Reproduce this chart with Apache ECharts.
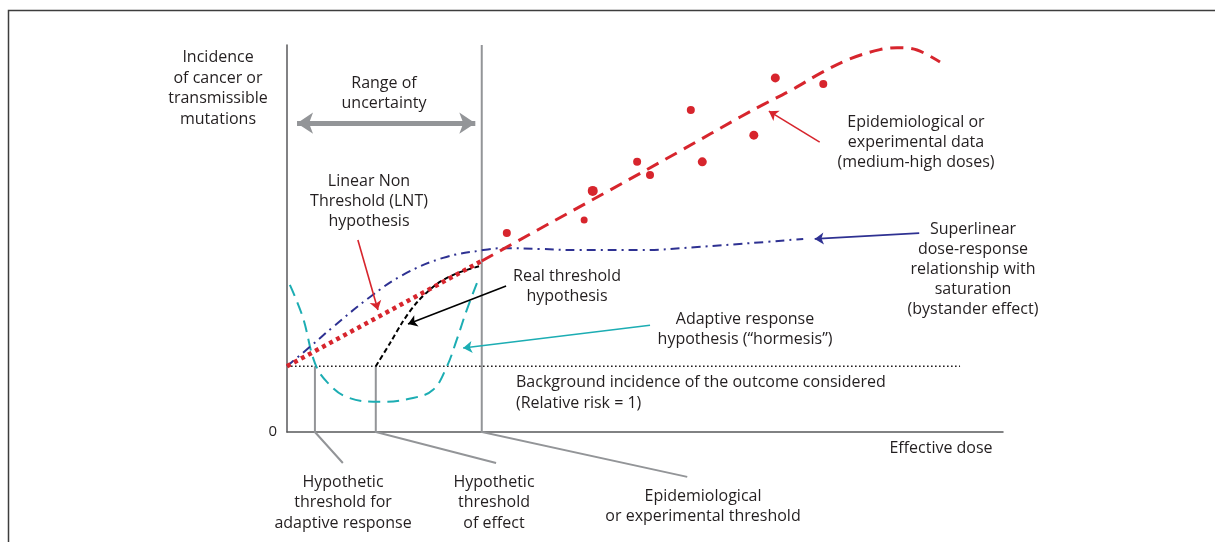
<!DOCTYPE html>
<html>
<head>
<meta charset="utf-8">
<script src="https://cdn.jsdelivr.net/npm/echarts@6/dist/echarts.min.js"></script>
<style>
html,body{margin:0;padding:0;background:#fff;}
#chart{width:1215px;height:542px;}
</style>
</head>
<body>
<div id="chart"></div>
<script>
// ---- Data (dose units 0-100, incidence units 0-100) ----
var background = [[0, 17], [94, 17]];
var lntLine = [[0, 17], [27.2, 44.2]];
var epiCurve = [[27.2, 44.2], [35, 52.2], [45, 62.4], [55, 72.7], [63.3, 81.4], [66.5, 84.6], [70.7, 88.6], [74.4, 92.6], [78.6, 96.4], [82.8, 98.8], [85.2, 99.3], [88, 98.7], [91.2, 95.6]];
var superlinear = [[0, 17], [3.2, 22.0], [6.4, 27.1], [11.6, 34.9], [16.2, 40.6], [21.8, 45.0], [27.4, 47.0], [30.2, 47.5], [35.3, 47.3], [40.9, 47.0], [49.3, 47.0], [57.3, 47.8], [64.7, 48.8], [72.1, 49.9]];
var realThreshold = [[12.4, 17], [14.4, 23.0], [16.2, 28.6], [18.2, 33.6], [20.9, 38.2], [23.7, 41.0], [27.0, 42.9]];
var hormesis = [[0.4, 38.0], [2.2, 29.7], [3.9, 17.8], [5.6, 12.9], [8.4, 9.0], [13.0, 7.8], [17.6, 8.8], [20.4, 10.9], [22.3, 16.8], [23.7, 23.8], [25.1, 31.5], [26.7, 39.3]];
var epiPoints = [[30.7, 51.4], [41.5, 54.8], [42.7, 62.3], [48.9, 69.8], [50.7, 66.4], [56.4, 83.2], [58.0, 69.8], [65.2, 76.7], [68.2, 91.5], [74.9, 89.9]];
var epiPointSizes = [8, 7, 10, 8, 8, 8, 9, 9, 9, 8];
var thresholds = {
  adaptive: [[3.9, 17], [3.9, 0], [7.8, -8.0]],
  effect: [[12.4, 17], [12.4, 0], [29.2, -8.0]],
  epidemiological: [[27.2, 100], [27.2, 0], [55.9, -11.6]]
};
var arrowLNT = [[9.9, 49.6], [12.7, 31.5]];
var arrowReal = [[30.6, 37.7], [16.9, 27.9]];
var arrowHormesis = [[50.7, 27.6], [24.6, 21.7]];
var arrowEpi = [[74.4, 74.9], [67.3, 82.9]];
var arrowSuper = [[88.3, 51.4], [73.7, 49.9]];
var rangeArrow = [[1.4, 79.8], [26.3, 79.8]];
var yTickLabels = ['0'];

// ---- Colours ----
var RED = '#d7252d', BLUE = '#2e3192', CYAN = '#1cadb3', GRAY = '#939598', TXT = '#231f20', AX = '#58595b';
var FONT = 'Open Sans';
var FS = 16;

var chart = echarts.init(document.getElementById('chart'));

function txt(str, x, y, align, lh) {
  return {
    type: 'text', x: x, y: y, z: 100,
    style: {
      text: str, fill: TXT, font: FS + 'px "' + FONT + '"',
      textAlign: align || 'center', textVerticalAlign: 'top', lineHeight: lh || 20
    }
  };
}

var option = {
  animation: false,
  backgroundColor: '#fff',
  grid: { left: 287, right: 212, top: 45, bottom: 110, containLabel: false },
  xAxis: {
    type: 'value', min: 0, max: 100,
    axisLine: { show: true, lineStyle: { color: AX, width: 1.5 } },
    axisTick: { show: false }, axisLabel: { show: false }, splitLine: { show: false }
  },
  yAxis: {
    type: 'value', min: 0, max: 100, interval: 100,
    axisLine: { show: true, lineStyle: { color: AX, width: 1.5 } },
    axisTick: { show: false }, splitLine: { show: false },
    axisLabel: {
      show: true, margin: 10, color: TXT, fontSize: 15, fontFamily: FONT,
      formatter: function (v) { return v === 0 ? yTickLabels[0] : ''; }
    }
  },
  graphic: [
    { type: 'rect', shape: { x: 8.5, y: 10.5, width: 1400, height: 800 }, style: { fill: 'none', stroke: '#3d3d3d', lineWidth: 1.5 }, z: 0 },
    txt('Incidence\nof cancer or\ntransmissible\nmutations', 218, 47, 'center', 20.7),
    txt('Range of\nuncertainty', 384, 73),
    txt('Linear Non\nThreshold (LNT)\nhypothesis', 369, 171),
    txt('Real threshold\nhypothesis', 567, 267, 'center', 19.5),
    txt('Adaptive response\nhypothesis (\u201chormesis\u201d)', 745, 309, 'center', 20.5),
    txt('Epidemiological or\nexperimental data\n(medium-high doses)', 916, 112),
    txt('Superlinear\ndose-response\nrelationship with\nsaturation\n(bystander effect)', 973, 219),
    txt('Background incidence of the outcome considered\n(Relative risk = 1)', 516, 372, 'left', 21),
    txt('Effective dose', 941, 438),
    txt('Hypothetic\nthreshold for\nadaptive response', 343, 472, 'center', 20.5),
    txt('Hypothetic\nthreshold\nof effect', 494, 472, 'center', 20.5),
    txt('Epidemiological\nor experimental threshold', 703, 486)
  ],
  series: [
    {
      type: 'lines', coordinateSystem: 'cartesian2d', polyline: true, clip: false, z: 1,
      lineStyle: { color: GRAY, width: 2, opacity: 1 },
      data: [{ coords: thresholds.adaptive }, { coords: thresholds.effect }, { coords: thresholds.epidemiological }]
    },
    {
      type: 'line', data: background, showSymbol: false, clip: false, z: 2,
      lineStyle: { color: TXT, width: 1.6, type: [1.6, 2.4] }
    },
    {
      type: 'line', data: hormesis, smooth: 0.4, showSymbol: false, clip: false, z: 3,
      lineStyle: { color: CYAN, width: 2, type: [12, 7] }
    },
    {
      type: 'line', data: superlinear, smooth: 0.4, showSymbol: false, clip: false, z: 3,
      lineStyle: { color: BLUE, width: 2, type: [9, 5, 2, 5] }
    },
    {
      type: 'line', data: realThreshold, smooth: 0.3, showSymbol: false, clip: false, z: 4,
      lineStyle: { color: '#000', width: 2, type: [5, 3] }
    },
    {
      type: 'line', data: lntLine, showSymbol: false, clip: false, z: 5,
      lineStyle: { color: RED, width: 4.5, type: [4, 4] }
    },
    {
      type: 'line', data: epiCurve, smooth: 0.35, showSymbol: false, clip: false, z: 5,
      lineStyle: { color: RED, width: 3, type: [13, 8] }
    },
    {
      type: 'scatter', z: 6, clip: false,
      data: epiPoints.map(function (p, i) { return { value: p, symbolSize: epiPointSizes[i] }; }),
      itemStyle: { color: RED, opacity: 1 }
    },
    {
      type: 'lines', coordinateSystem: 'cartesian2d', clip: false, z: 7,
      symbol: ['none', 'arrow'], symbolSize: 9,
      lineStyle: { width: 1.6, opacity: 1 },
      data: [
        { coords: arrowLNT, lineStyle: { color: RED } },
        { coords: arrowReal, lineStyle: { color: '#000' } },
        { coords: arrowHormesis, lineStyle: { color: CYAN } },
        { coords: arrowEpi, lineStyle: { color: RED } },
        { coords: arrowSuper, lineStyle: { color: BLUE } }
      ]
    },
    {
      type: 'lines', coordinateSystem: 'cartesian2d', clip: false, z: 7,
      symbol: ['arrow', 'arrow'], symbolSize: 16,
      lineStyle: { width: 5, color: GRAY, opacity: 1 },
      data: [{ coords: rangeArrow }]
    }
  ]
};
chart.setOption(option);
</script>
</body>
</html>
